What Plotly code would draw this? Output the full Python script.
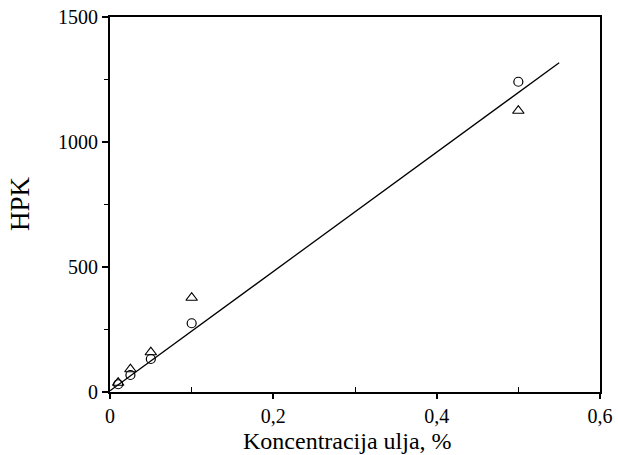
import plotly.graph_objects as go

conc_circle = [0.01, 0.025, 0.05, 0.1, 0.5]
hpk_circle = [31, 68, 132, 275, 1241]
conc_triangle = [0.01, 0.025, 0.05, 0.1, 0.5]
hpk_triangle = [37, 91, 159, 377, 1125]
fit_x = [0.0, 0.55]
fit_y = [5, 1317]

x_tickvals = [0, 0.2, 0.4, 0.6]
x_ticktext = ["0", "0,2", "0,4", "0,6"]
y_tickvals = [0, 500, 1000, 1500]
y_ticktext = ["0", "500", "1000", "1500"]

font = "Liberation Serif, Times New Roman, serif"

fig = go.Figure()
fig.add_trace(go.Scatter(x=fit_x, y=fit_y, mode="lines",
                         line=dict(color="black", width=1.3), showlegend=False))
fig.add_trace(go.Scatter(x=conc_circle, y=hpk_circle, mode="markers",
                         marker=dict(symbol="circle-open", size=9, color="black",
                                     line=dict(width=1.2)),
                         cliponaxis=False, showlegend=False))
fig.add_trace(go.Scatter(x=conc_triangle, y=hpk_triangle, mode="markers",
                         marker=dict(symbol="triangle-up-open", size=10, color="black",
                                     line=dict(width=1.2)),
                         cliponaxis=False, showlegend=False))

fig.update_layout(
    width=618, height=455,
    margin=dict(l=110, r=18, t=17, b=63),
    paper_bgcolor="white", plot_bgcolor="white",
    font=dict(family=font, color="black", size=20),
    xaxis=dict(range=[0, 0.6], tickvals=x_tickvals, ticktext=x_ticktext,
               automargin=False,
               showgrid=False, zeroline=False, showline=True, linecolor="black",
               linewidth=2, mirror=True, ticks="outside", ticklen=5, tickwidth=1.5,
               tickcolor="black",
               minor=dict(tickvals=[0.1, 0.3, 0.5], ticks="inside", ticklen=5,
                          tickcolor="black", tickwidth=1.2),
               tickfont=dict(size=20)),
    yaxis=dict(range=[0, 1500], tickvals=y_tickvals, ticktext=y_ticktext,
               automargin=False,
               showgrid=False, zeroline=False, showline=True, linecolor="black",
               linewidth=2, mirror=True, ticks="outside", ticklen=6, tickwidth=1.5,
               tickcolor="black",
               minor=dict(tickvals=[250, 750, 1250], ticks="outside", ticklen=4,
                          tickcolor="black", tickwidth=1.2),
               tickfont=dict(size=20)),
    annotations=[
        dict(text="Koncentracija ulja, %", xref="paper", yref="paper",
             x=0.4837, y=-0.13, xanchor="center", yanchor="middle",
             showarrow=False, font=dict(size=24)),
        dict(text="HPK", xref="paper", yref="paper", textangle=-90,
             x=-0.1837, y=0.504, xanchor="center", yanchor="middle",
             showarrow=False, font=dict(size=27)),
    ],
)

fig.write_html("out.html", config={"displayModeBar": False},
               post_script="document.body.style.margin='0px';document.body.style.overflow='hidden';")
